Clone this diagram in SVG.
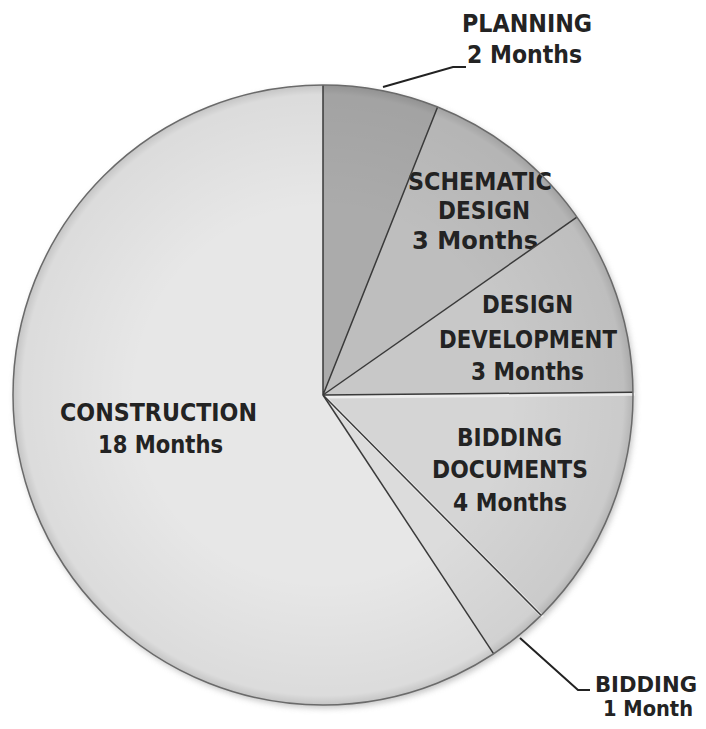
<svg xmlns="http://www.w3.org/2000/svg" width="706" height="729" viewBox="0 0 706 729">
<style>
.lbl{font-family:"DejaVu Sans","Liberation Sans",sans-serif;font-weight:bold;font-size:24px;fill:#232323;text-anchor:middle}
.sm{font-size:22px}
.sep{stroke:#3a3a3a;stroke-width:1.5;fill:none}
.hl{stroke:#f4f4f4;stroke-width:3;fill:none;opacity:0.8}
.lead{stroke:#222;stroke-width:2;fill:none}
</style>
<defs>
<filter id="sh" x="-10%" y="-10%" width="120%" height="120%">
<feGaussianBlur stdDeviation="3"/>
</filter>
<radialGradient id="shade" cx="323" cy="395" r="310" gradientUnits="userSpaceOnUse">
<stop offset="0.6" stop-color="#000" stop-opacity="0"/>
<stop offset="0.97" stop-color="#000" stop-opacity="0.05"/>
<stop offset="1" stop-color="#000" stop-opacity="0.15"/>
</radialGradient>
</defs>
<rect width="706" height="729" fill="#fff"/>
<circle cx="325" cy="398" r="310" fill="#999" filter="url(#sh)" opacity="0.6"/>
<g id="construction">
<path d="M323,395 L493.7,653.8 A310,310 0 1 1 323,85 Z" fill="#e7e7e7"/>
<text class="lbl" x="158.5" y="421" textLength="197" lengthAdjust="spacingAndGlyphs">CONSTRUCTION</text>
<text class="lbl" x="160.5" y="453" textLength="125" lengthAdjust="spacingAndGlyphs">18 Months</text>
</g>
<g id="planning">
<path d="M323,395 L323,85 A310,310 0 0 1 437.6,107 Z" fill="#ababab"/>
</g>
<g id="schematic-design">
<path d="M323,395 L437.6,107 A310,310 0 0 1 576.9,217.2 Z" fill="#bebebe"/>
<text class="lbl" x="480" y="190" textLength="144" lengthAdjust="spacingAndGlyphs">SCHEMATIC</text>
<text class="lbl" x="484" y="219" textLength="92" lengthAdjust="spacingAndGlyphs">DESIGN</text>
<text class="lbl" x="475" y="249" textLength="126" lengthAdjust="spacingAndGlyphs">3 Months</text>
</g>
<g id="design-development">
<path d="M323,395 L576.9,217.2 A310,310 0 0 1 633,392.3 Z" fill="#c8c8c8"/>
<text class="lbl" x="527.5" y="313" textLength="91" lengthAdjust="spacingAndGlyphs">DESIGN</text>
<text class="lbl" x="528" y="348" textLength="178" lengthAdjust="spacingAndGlyphs">DEVELOPMENT</text>
<text class="lbl" x="527.5" y="380" textLength="113" lengthAdjust="spacingAndGlyphs">3 Months</text>
</g>
<g id="bidding-documents">
<path d="M323,395 L633,392.3 A310,310 0 0 1 541.1,615.3 Z" fill="#d5d5d5"/>
<text class="lbl" x="509.5" y="446" textLength="105" lengthAdjust="spacingAndGlyphs">BIDDING</text>
<text class="lbl" x="510" y="478" textLength="156" lengthAdjust="spacingAndGlyphs">DOCUMENTS</text>
<text class="lbl" x="510" y="511" textLength="114" lengthAdjust="spacingAndGlyphs">4 Months</text>
</g>
<g id="bidding">
<path d="M323,395 L541.1,615.3 A310,310 0 0 1 493.7,653.8 Z" fill="#dcdcdc"/>
<text class="lbl sm" x="646" y="692" textLength="102" lengthAdjust="spacingAndGlyphs">BIDDING</text>
<text class="lbl sm" x="648" y="716" textLength="90" lengthAdjust="spacingAndGlyphs">1 Month</text>
</g>
<circle cx="323" cy="395" r="310" fill="url(#shade)"/>
<g id="separators">
<path class="hl" d="M325,397 L635,394.3"/>
<path class="hl" d="M325,397 L543,617"/>
<path class="sep" d="M323,85 L323,395 L437.6,107"/>
<path class="sep" d="M323,395 L576.9,217.2"/>
<path class="sep" d="M323,395 L493.7,653.8" stroke="#555"/>
<path class="sep" d="M323,395 L633,392.3" stroke="#888" stroke-width="1"/>
<path class="sep" d="M323,395 L541.1,615.3" stroke="#888" stroke-width="1"/>
<circle cx="323" cy="395" r="310" fill="none" stroke="#6a6a6a" stroke-width="1.5"/>
</g>
<g id="connectors">
<path class="lead" d="M520,638 L578,690 L590,690"/>
<path class="lead" d="M383,87 L453,67 L466,67"/>
</g>
<g id="planning-label">
<text class="lbl" x="527" y="32" textLength="130" lengthAdjust="spacingAndGlyphs">PLANNING</text>
<text class="lbl" x="524.5" y="63" textLength="115" lengthAdjust="spacingAndGlyphs">2 Months</text>
</g>
</svg>
